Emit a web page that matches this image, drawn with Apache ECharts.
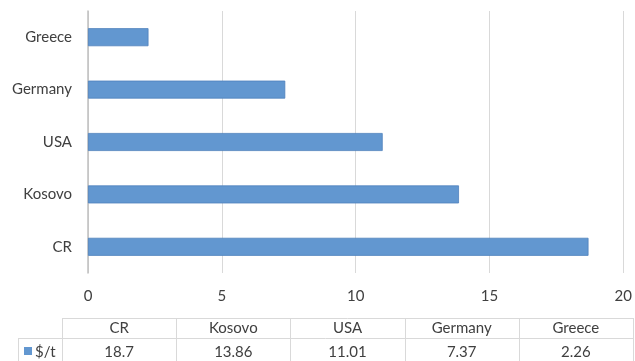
<!DOCTYPE html>
<html>
<head>
<meta charset="utf-8">
<script src="https://cdn.jsdelivr.net/npm/echarts@6/dist/echarts.min.js"></script>
<style>
  html, body { margin: 0; padding: 0; background: #fff; }
  #chart { width: 635px; height: 361px; }
</style>
</head>
<body>
<div id="chart"></div>
<script>
// Price per tonne by country
const categories = ['CR', 'Kosovo', 'USA', 'Germany', 'Greece'];
const values = [18.7, 13.86, 11.01, 7.37, 2.26];
const seriesName = '$/t';
const xTicks = { min: 0, max: 20, interval: 5 };

const FONT = 'Lato, "Open Sans", sans-serif';
const FS = 15;
const TEXT = '#404040';
const BAR = '#6297d0';
const LINE = '#d9d9d9';

const chart = echarts.init(document.getElementById('chart'), null, { renderer: 'canvas' });

// Data table under the axis: header row of categories, value row with legend key
function buildTable() {
  const left = 62, right = 633, top = 318, rowH = 20, keyLeft = 18;
  const colW = (right - left) / categories.length;
  const els = [];
  const stroke = { stroke: LINE, lineWidth: 1 };
  const font = FS + 'px ' + FONT;
  // horizontal lines
  els.push({ type: 'line', shape: { x1: left, y1: top + 0.5, x2: right, y2: top + 0.5 }, style: stroke, silent: true });
  els.push({ type: 'line', shape: { x1: keyLeft, y1: top + rowH + 0.5, x2: right, y2: top + rowH + 0.5 }, style: stroke, silent: true });
  // vertical lines
  els.push({ type: 'line', shape: { x1: keyLeft + 0.5, y1: top + rowH, x2: keyLeft + 0.5, y2: 361 }, style: stroke, silent: true });
  for (let i = 0; i <= categories.length; i++) {
    const x = Math.round(left + i * colW) + 0.5;
    els.push({ type: 'line', shape: { x1: x, y1: top, x2: x, y2: 361 }, style: stroke, silent: true });
  }
  categories.forEach((c, i) => {
    const cx = left + (i + 0.5) * colW;
    els.push({ type: 'text', x: cx, y: top + 10, style: { text: c, fill: TEXT, font: font, textAlign: 'center', textVerticalAlign: 'middle' }, silent: true });
    els.push({ type: 'text', x: cx, y: top + 34, style: { text: String(values[i]), fill: TEXT, font: font, textAlign: 'center', textVerticalAlign: 'middle' }, silent: true });
  });
  // legend key
  els.push({ type: 'rect', shape: { x: 24, y: top + 29, width: 8, height: 8 }, style: { fill: BAR }, silent: true });
  els.push({ type: 'text', x: 35, y: top + 34, style: { text: seriesName, fill: TEXT, font: font, textAlign: 'left', textVerticalAlign: 'middle' }, silent: true });
  return els;
}

chart.setOption({
  animation: false,
  backgroundColor: '#ffffff',
  grid: { left: 88, right: 8, top: 11, bottom: 88, containLabel: false },
  xAxis: {
    type: 'value',
    min: xTicks.min, max: xTicks.max, interval: xTicks.interval,
    axisLine: { show: false },
    axisTick: { show: false },
    splitLine: { show: true, lineStyle: { color: LINE, width: 1 } },
    axisLabel: { color: TEXT, fontFamily: FONT, fontSize: FS, margin: 16 }
  },
  yAxis: {
    type: 'category',
    data: categories,
    axisLine: { show: true, lineStyle: { color: '#bfbfbf', width: 1.5 } },
    axisTick: { show: false },
    splitLine: { show: false },
    axisLabel: { color: TEXT, fontFamily: FONT, fontSize: FS, margin: 16 }
  },
  series: [{
    name: seriesName,
    type: 'bar',
    data: values,
    barWidth: 18,
    itemStyle: { color: BAR, borderColor: '#4f81bd', borderWidth: 0.8 }
  }],
  graphic: buildTable()
});
</script>
</body>
</html>
